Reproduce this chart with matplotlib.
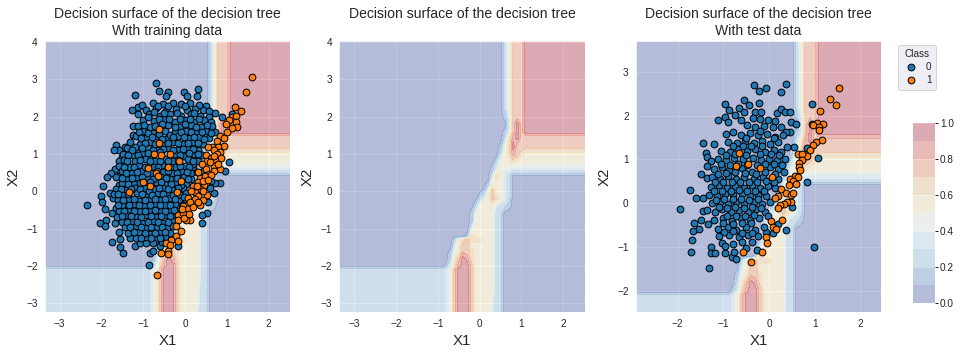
import numpy as np
import matplotlib
matplotlib.use("Agg")
import matplotlib.pyplot as plt
import seaborn as sns

sns.set_style("darkgrid")
plt.rcParams['font.family'] = ['Liberation Sans', 'DejaVu Sans']

surface_x = [-3.36, -1.0, -.9, -.8, -.7, -.6, -.5, -.4, -.3, -.2, -.1, 0, .1, .2, .3, .4, .5, .6, .7, .8, .9, 1.0, 1.1, 1.2, 1.3, 1.4, 2.51]
surface_y = [4.04, 2.2, 2.0, 1.8, 1.6, 1.45, 1.2, 1.0, .8, .6, .5, .4, .2, 0, -.2, -.4, -.6, -.8, -1.0, -1.2, -1.3, -1.45, -1.6, -1.8, -2.0, -2.1, -2.4, -3.24]
surface_bands = [
    "000000000000000002477799999",
    "000000000000000002477799999",
    "000000000000000001377799999",
    "000000000000000000379799999",
    "000000000000000001379799999",
    "000000000000000002589777777",
    "000000000000000014697777777",
    "000000000000000025687655555",
    "000000000000000245565555555",
    "000000000000001354433333333",
    "000000000000002553322222222",
    "000000000000003653200000000",
    "000000000000015543200000000",
    "000000000000147553200000000",
    "000000000002357653200000000",
    "000000000024555322100000000",
    "000000000145555220000000000",
    "000000000145555220000000000",
    "000000000355555220000000000",
    "000000001655555220000000000",
    "000002567666555220000000000",
    "000003577555555220000000000",
    "000014577655555220000000000",
    "000025798655555220000000000",
    "000136899755555220000000000",
    "222347999755555220000000000",
    "222347999755555220000000000",
    "222347999755553220000000000",
]

train_blue = [
 (-.69,2.91),(-.62,2.69),(-.41,2.67),(-1.2,2.58),(-.45,2.55),(-.02,2.67),(.04,2.55),(.3,2.75),(.28,2.55),(-1.28,2.19),
 (-1.13,2.25),(-1.02,2.32),(-1.12,2.08),(.5,2.3),(.44,2.19),(.72,2.1),(.89,1.99),(.58,2.15),(-1.24,1.74),(-1.24,1.52),
 (-1.65,1.23),(-1.58,1.1),(-1.69,1.12),(-1.44,1.19),(-1.52,.92),(-1.58,.8),(-1.67,.6),(-1.78,.49),(-1.87,.38),(-1.97,.15),
 (-1.58,.4),(-1.58,.18),(-2.34,-.38),(-2.01,-.12),(-1.99,-.29),(-1.79,-.06),(-1.73,-.18),(-1.91,-.47),(-1.75,-.58),(-1.66,-.45),
 (-2.03,-.85),(-1.89,-.76),(-1.91,-.92),(-1.67,-.85),(-1.59,-1.09),(-1.75,-1.36),(-1.56,-1.28),(-1.56,-1.49),(-1.48,-1.67),(-1.32,-1.25),
 (-1.2,-1.48),(-1.09,-1.39),(-.94,-1.39),(-.84,-1.65),(-.76,-1.61),(-.6,-1.48),(-.86,-1.98),(-.18,-1.48),(1.04,.79),(.84,.22),
 (.72,.22),(.68,-.06),(.52,-.58),(.4,-.63),(.41,-.85),(.96,.54),(1.12,2.06),
 (-.77,2.37),(-.52,2.33),(-.28,2.38),(-.11,2.34),(.12,2.37),(.33,2.32),
 (-.94,2.18),(-.7,2.23),(-.46,2.16),(-.21,2.22),(.05,2.17),(.24,2.21),
 (-.86,2.06),(-.59,2.03),(-.36,2.08),(-.09,2.02),(.15,2.07),(.36,2.03),(.57,1.98),
 (-1.01,1.91),(-.74,1.88),(-.51,1.94),(-.24,1.87),(.01,1.92),(.22,1.86),(.46,1.91),(.63,1.86),
 (-1.12,1.76),(-.85,1.73),(-.4,1.77),(-.12,1.72),(.13,1.77),(.38,1.73),(.64,1.76),
 (-1.0,1.62),(-.76,1.57),(-.48,1.62),(-.25,1.58),(.02,1.63),(.27,1.57),(.51,1.62),(.71,1.58),
 (-1.18,1.47),(-.93,1.43),(-.68,1.48),(-.41,1.43),(-.16,1.47),(.09,1.42),(.33,1.46),(.58,1.42),
 (-1.31,1.31),(-1.07,1.28),(-.83,1.33),(-.5,1.27),(-.29,1.32),(-.04,1.28),(.2,1.32),(.43,1.27),
 (-1.39,1.16),(-1.14,1.12),(-.9,1.17),(-.65,1.12),(-.41,1.16),(-.17,1.12),(.07,1.17),(.3,1.11),
 (-1.48,1.01),(-1.25,.97),(-1.0,1.02),(-.85,.94),(-.48,.87),(-.25,1.0),(-.02,.95),(.22,1.0),(.41,.96),
 (-1.47,.84),(-1.2,.82),(-.96,.87),(-.72,.8),(-.3,.82),(.07,.86),(.3,.82),
 (-1.59,.69),(-1.33,.66),(-1.1,.71),(-.75,.66),(-.55,.7),(-.24,.65),(-.01,.69),(.2,.64),
 (-1.52,.54),(-1.27,.5),(-1.03,.55),(-.82,.49),(-.53,.52),(-.32,.5),(-.1,.55),(.14,.49),
 (-1.66,.37),(-1.4,.34),(-1.16,.39),(-.9,.35),(-.58,.38),(-.35,.33),(-.02,.38),(.15,.33),
 (-1.5,.22),(-1.22,.19),(-.96,.1),(-.7,.24),(-.47,.19),(-.22,.24),(.02,.19),
 (-1.66,.07),(-1.42,.04),(-1.2,.08),(-.75,.05),(-.52,.09),(-.3,.04),(-.06,.08),
 (-1.71,-.07),(-1.48,-.1),(-1.15,-.06),(-.92,-.1),(-.65,-.05),(-.42,-.09),(-.12,-.11),(.02,-.05),
 (-1.6,-.24),(-1.34,-.2),(-1.1,-.25),(-.85,-.2),(-.6,-.24),(-.36,-.19),(-.14,-.25),(.0,-.22),
 (-1.5,-.38),(-1.22,-.34),(-.98,-.39),(-.72,-.35),(-.48,-.38),(-.25,-.34),(-.08,-.37),
 (-1.58,-.52),(-1.36,-.5),(-1.08,-.54),(-.84,-.49),(-.58,-.53),(-.36,-.49),(-.17,-.53),
 (-1.62,-.69),(-1.41,-.65),(-1.17,-.7),(-.93,-.65),(-.7,-.69),(-.45,-.64),(-.25,-.68),
 (-1.5,-.82),(-1.26,-.8),(-1.02,-.85),(-.77,-.8),(-.53,-.84),(-.3,-.8),
 (-1.44,-.97),(-1.18,-.94),(-.94,-.99),(-.68,-.95),(-.44,-.98),(-.3,-.93),
 (-1.36,-1.12),(-1.1,-1.09),(-.84,-1.14),(-.58,-1.09),(-.37,-1.13),
 (-1.17,-1.26),(-.93,-1.23),(-.7,-1.28),(-.48,-1.24),(-.78,-1.4),(-.55,-1.36),
 (.28,.52),(.18,.72),(.42,.55),(.6,.1),(.55,-.3),(.62,.27),
 (-.64,2.28),(-.4,2.28),(-.2,2.1),(.0,2.28),(.22,2.1),(-.75,2.12),(-.5,2.1),(-.9,1.98),(-.63,1.95),(-.38,1.95),(-.12,1.95),(.12,1.95),(.34,1.95),
 (-.98,1.78),(-.72,1.74),(-.55,1.8),(-.25,1.72),(.0,1.8),(.26,1.72),(.52,1.78),(-1.1,1.6),(-.88,1.57),(-.62,1.54),(-.36,1.52),(-.11,1.6),(.15,1.6),(.4,1.58),(.62,1.56),
 (-1.05,1.42),(-.8,1.46),(-.55,1.4),(-.28,1.45),(-.03,1.46),(.22,1.45),(.46,1.4),(-1.2,1.2),(-.95,1.3),(-.72,1.26),(-.42,1.3),(-.16,1.3),(.08,1.3),(.32,1.3),
 (-1.27,1.12),(-1.02,1.15),(-.78,1.1),(-.53,1.14),(-.29,1.12),(-.05,1.13),(.19,1.14),(-1.36,.98),(-1.12,.98),(-.9,1.02),(-.6,1.06),(-.13,.98),(.1,1.02),(.32,1.0),
 (-1.38,.82),(-1.08,.84),(-.84,.8),(-.6,.8),(-.42,.8),(-.18,.84),(.18,.82),(-1.46,.66),(-1.22,.64),(-.97,.66),(-.64,.64),(-.35,.66),(-.12,.68),(.1,.66),
 (-1.42,.5),(-1.15,.52),(-.92,.5),(-.68,.55),(-.42,.55),(-.2,.5),(.04,.52),(-1.52,.36),(-1.28,.36),(-1.03,.38),(-.78,.34),(-.46,.36),(-.2,.36),(.06,.33),
 (-1.36,.2),(-1.09,.22),(-.84,.26),(-.58,.24),(-.34,.2),(-.1,.16),(-1.54,.06),(-1.3,.06),(-1.08,.05),(-.86,.0),(-.62,.08),(-.4,.06),(-.18,.1),
 (-1.6,-.08),(-1.36,-.08),(-1.03,-.08),(-.8,-.1),(-.53,-.08),(-.3,-.1),(-.03,-.16),(-1.48,-.24),(-1.22,-.22),(-.97,-.24),(-.72,-.22),(-.48,-.22),(-.25,-.22),
 (-1.6,-.38),(-1.35,-.36),(-1.1,-.38),(-.85,-.36),(-.6,-.38),(-.36,-.36),(-1.47,-.52),(-1.22,-.52),(-.96,-.52),(-.72,-.5),(-.47,-.52),(-.27,-.5),
 (-1.52,-.67),(-1.29,-.67),(-1.05,-.68),(-.82,-.66),(-.58,-.66),(-.35,-.66),(-1.38,-.82),(-1.14,-.82),(-.9,-.82),(-.65,-.82),(-.41,-.82),
 (-1.31,-.96),(-1.06,-.96),(-.81,-.97),(-.56,-.97),(-1.23,-1.1),(-.97,-1.11),(-.71,-1.11),(-.48,-1.1),(-1.05,-1.25),(-.82,-1.26),(-.6,-1.25),
]
train_orange = [
 (1.59,3.07),(1.46,2.67),(1.2,2.26),(1.34,2.16),(1.12,1.99),(1.21,2.03),(1.04,1.92),(1.22,1.86),(1.25,1.72),(1.12,1.7),
 (.99,1.81),(1.0,1.58),(.84,1.49),(.93,1.43),(.76,1.34),(.92,1.21),(.78,1.19),(.64,1.19),(.54,1.19),(.84,1.06),
 (.68,1.1),(.49,.96),(.77,1.01),(.62,.89),(.86,.89),(.72,.83),(.52,.8),(.41,.72),(.68,.69),(.84,.61),
 (.5,.6),(.56,.47),(.68,.54),(.36,.36),(.48,.4),(.61,.43),(.32,.24),(.45,.16),(.2,.13),(.36,.06),
 (.24,-.03),(.52,-.09),(.32,-.13),(.08,-.18),(.24,-.22),(.44,-.24),(-.04,-.4),(.08,-.47),(.36,-.36),(-.16,-.65),
 (-.04,-.58),(.12,-.76),(.02,-.78),(-.16,-.78),(-.22,-.94),(-.1,-1.07),(-.22,-1.21),(-.33,-1.3),(-.18,-1.34),(-.45,-1.39),
 (-.36,-1.43),(-.57,-1.65),(-.41,-1.61),(-.41,-1.68),(-.67,-2.25),
 (-.62,1.67),(-.62,1.3),(-.74,.99),(-.57,.97),(-.36,1.0),(-.14,.81),(-.89,.63),(-.41,.65),(-.69,.49),(-.66,.42),
 (-1.01,.25),(-.84,.15),(-.1,.28),(-1.34,-.02),(-.19,-.02),
 (.3,.52),(.44,.28),(.15,.0),(.28,.14),(.12,-.3),(.3,-.3),(.2,-.42),(-.02,-.72),(-.08,-.48),(.1,-.62),(.55,.3),(.6,.78),(.7,.95),(.78,.72),(.42,.02),
]
test_blue = [
 (-.32,2.69),(-.23,2.56),(-.06,2.63),(.36,2.72),(.26,2.53),(.93,2.26),(-.54,2.35),(-.45,2.24),(-.21,2.28),(-.96,2.26),
 (-.88,2.13),(-.65,2.18),(-.55,2.08),(-.74,2.01),(-.96,1.96),(-1.11,1.89),(-.91,1.85),(-.62,1.89),(-.31,2.09),(-.18,2.09),
 (.17,2.05),(.25,2.15),(.35,2.08),(.45,2.08),(.47,1.86),(.58,1.8),(.46,1.62),(.36,1.62),(.95,1.8),(.82,1.26),
 (.55,1.28),(.39,1.28),(-1.44,1.37),(-1.2,1.35),(-1.38,1.14),(-1.35,1.05),(-1.28,.97),(-1.36,.84),(-1.49,.66),(-1.35,.57),
 (-1.73,.3),(-1.6,.11),(-1.44,.13),(-1.94,-.14),(-1.44,-.18),(-1.64,-.46),(-1.49,-.38),(-1.53,-.59),(-1.66,-.64),(-1.33,-.48),
 (-1.68,-.84),(-1.71,-1.12),(-1.28,-.99),(-1.28,-1.14),(-1.18,-1.13),(-1.31,-1.48),(-.96,-1.14),(-.82,-1.22),(-.72,-1.28),(-.76,-1.12),
 (-.38,-.88),(-.27,-1.07),(-.51,-1.03),(.99,-1.0),(1.08,1.03),(.84,.48),(.37,-.61),(.2,-.48),(.5,-.08),(.09,-.68),(-.07,-.65),
 (-.36,1.95),(-.2,1.92),(-.02,1.9),(.12,1.88),(-.48,1.78),(-.3,1.75),(-.12,1.77),(.08,1.74),(.25,1.75),
 (-.95,1.58),(-.8,1.62),(-.62,1.56),(-.42,1.6),(-.24,1.55),(-.04,1.58),(.14,1.52),(.3,1.55),
 (-.9,1.4),(-.7,1.38),(-.52,1.42),(-.34,1.37),(-.15,1.42),(.02,1.36),(.2,1.4),
 (-1.05,1.2),(-.85,1.18),(-.68,1.24),(-.48,1.2),(-.3,1.24),(-.1,1.18),(.1,1.22),(.26,1.17),
 (-1.12,1.02),(-.94,.98),(-.76,1.03),(-.58,1.0),(-.36,1.03),(-.18,.98),(.0,1.02),(.18,.98),(.35,1.0),
 (-1.2,.78),(-1.02,.82),(-.88,.76),(-.6,.8),(-.38,.72),(.02,.82),(.2,.78),(.33,.72),
 (-1.25,.6),(-1.08,.55),(-.9,.62),(-.72,.56),(-.54,.6),(-.32,.56),(-.14,.6),(.2,.55),
 (-1.28,.38),(-1.1,.42),(-.92,.36),(-.74,.4),(-.56,.36),(-.38,.42),(-.2,.36),(-.02,.4),(.14,.36),
 (-1.32,.2),(-1.14,.16),(-.96,.22),(-.78,.18),(-.6,.22),(-.42,.16),(-.24,.2),(-.06,.16),
 (-1.25,.0),(-1.08,.04),(-.9,-.02),(-.72,.02),(-.54,-.02),(-.34,.03),(-.16,-.02),(.02,.02),
 (-1.35,-.16),(-1.18,-.2),(-1.02,-.14),(-.84,-.2),(-.66,-.15),(-.46,-.2),(-.28,-.14),(-.1,-.2),
 (-1.2,-.38),(-1.0,-.34),(-.82,-.4),(-.62,-.34),(-.42,-.38),(-.22,-.34),(-.02,-.3),
 (-1.12,-.58),(-.9,-.54),(-.72,-.6),(-.5,-.55),(-.3,-.6),(-.12,-.55),
 (-1.1,-.75),(-.88,-.72),(-.66,-.78),(-.46,-.73),(-.24,-.75),
 (-1.02,-.9),(-.8,-.92),(-.6,-.88),(-.96,-.98),
 (-.2,1.65),(-.5,1.5),(-.15,1.3),(.1,1.48),(-.8,1.3),(-.58,1.3),(-.4,1.3),(-.2,1.12),(-.95,1.1),(-.75,1.12),(-.5,1.1),(.04,1.12),(.22,1.1),
 (-1.05,.9),(-.85,.88),(-.68,.9),(-.48,.88),(-.26,.88),(-.08,.9),(.1,.9),(.28,.88),(-1.12,.68),(-.95,.7),(-.75,.72),(-.52,.7),(-.28,.68),(-.08,.72),(.12,.68),
 (-1.18,.48),(-1.0,.48),(-.82,.48),(-.64,.48),(-.44,.48),(-.26,.48),(-.06,.5),(.1,.48),(-1.2,.28),(-1.02,.28),(-.84,.28),(-.66,.3),(-.48,.28),(-.3,.28),(-.12,.28),
 (-1.16,.08),(-.98,.1),(-.8,.1),(-.62,.1),(-.44,.08),(-.25,.1),(-1.1,-.08),(-.92,-.1),(-.75,-.08),(-.56,-.1),(-.38,-.08),(-.18,-.1),(-.92,-.28),(-.72,-.28),(-.52,-.28),(-.32,-.26),
 (-1.0,-.46),(-.8,-.48),(-.6,-.46),(-.4,-.46),(-.98,-.65),(-.6,-.68),(-.8,-.64),(-.38,-.68),
]
test_orange = [
 (1.54,2.63),(1.34,2.37),(1.47,2.24),(1.12,2.11),(1.04,1.83),(.97,1.78),(1.17,1.8),(1.09,1.75),(1.1,1.67),(1.15,1.44),
 (1.02,1.39),(.97,1.32),(.9,1.22),(.82,1.08),(.63,1.13),(.72,1.12),(.72,.99),(.66,.91),(.66,.82),(.68,.75),
 (-.65,1.14),(-.47,.89),(-.73,.85),(-.19,.8),(.07,.59),(.56,.63),(.63,.59),(.46,.56),(.53,.52),(.44,.41),
 (.6,.43),(.27,.33),(.37,.23),(.47,.19),(.52,.23),(.2,.17),(.13,.13),(.47,.03),(.39,.04),(.33,-.02),
 (.24,-.04),(.19,-.11),(.29,-.37),(.04,-.41),(.08,-.55),(.15,-.59),(-.07,-.78),(-.05,-.91),(-.16,-1.12),(-.58,-1.12),
 (-.39,-1.35),
]

panel_titles = ["Decision surface of the decision tree\nWith training data",
                "Decision surface of the decision tree\n ",
                "Decision surface of the decision tree\nWith test data"]
panel_xlim = [(-3.36, 2.51), (-3.36, 2.51), (-2.92, 2.45)]
panel_ylim = [(-3.24, 4.04), (-3.24, 4.04), (-2.48, 3.71)]
panel_xticks = [[-3, -2, -1, 0, 1, 2], [-3, -2, -1, 0, 1, 2], [-2, -1, 0, 1, 2]]
panel_yticks = [[-3, -2, -1, 0, 1, 2, 3, 4], [-3, -2, -1, 0, 1, 2, 3, 4], [-2, -1, 0, 1, 2, 3]]
panel_left_px = [44.7, 339.3, 635.7]
panel_points = [(train_blue, train_orange), ([], []), (test_blue, test_orange)]
class_names = ["0", "1"]
class_colors = ["#1f77b4", "#ff7f0e"]
colorbar_levels = np.linspace(0, 1, 11)

W, H = 962, 353
fig = plt.figure(figsize=(W / 72, H / 72), dpi=72)
Z = (np.array([[int(c) for c in row] for row in surface_bands]) + .5) / 10
top, bottom = 40.7, 312.0
panel_w = 245.3

def draw_points(ax, pts, color, label):
    if not pts:
        return None
    arr = np.array(pts)
    return ax.scatter(arr[:, 0], arr[:, 1], s=46, c=color, edgecolors="black", linewidths=1, label=label, zorder=3)

for i in range(3):
    ax = fig.add_axes([panel_left_px[i] / W, 1 - bottom / H, panel_w / W, (bottom - top) / H])
    cf = ax.contourf(surface_x, surface_y, Z, levels=colorbar_levels, cmap="RdYlBu_r", alpha=.3, vmin=0, vmax=1)
    blue, orange = panel_points[i]
    h0 = draw_points(ax, blue, class_colors[0], class_names[0])
    h1 = draw_points(ax, orange, class_colors[1], class_names[1])
    ax.set_xlim(*panel_xlim[i])
    ax.set_ylim(*panel_ylim[i])
    ax.set_xticks(panel_xticks[i])
    ax.set_yticks(panel_yticks[i])
    ax.tick_params(labelsize=10, length=0, pad=7)
    ax.set_xlabel("X1", fontsize=15, labelpad=5)
    ax.set_ylabel("X2", fontsize=15, labelpad=6)
    ax.set_title(panel_titles[i], fontsize=14, pad=6)
    if i == 2:
        ax.legend(handles=[h0, h1], title="Class", loc="upper left",
                  bbox_to_anchor=((897.5 - panel_left_px[2]) / panel_w, 1 + (top - 44.5) / (bottom - top)),
                  borderaxespad=0, fontsize=10, title_fontsize=10, frameon=True,
                  borderpad=.45, labelspacing=.3, handletextpad=.6, handlelength=1.8)

cax = fig.add_axes([913.3 / W, 1 - 303 / H, 21.7 / W, 179.7 / H])
cb = fig.colorbar(cf, cax=cax)
cb.set_ticks(np.arange(0, 1.01, .2))
cb.ax.tick_params(labelsize=10, length=3, width=1, pad=2, color=".15")
cb.outline.set_visible(False)

fig.savefig("out.png", dpi=72)
